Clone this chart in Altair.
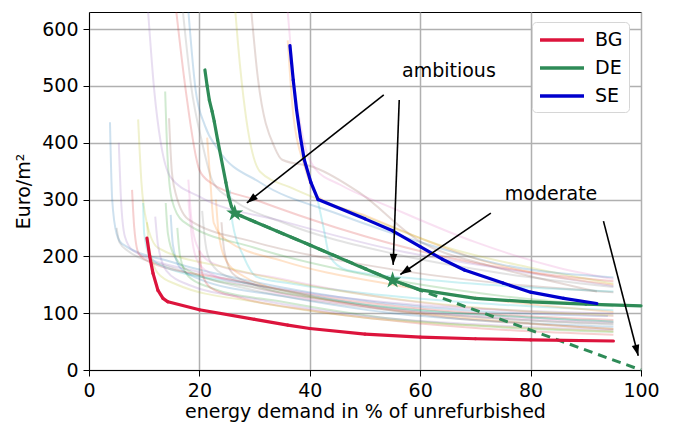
import math
import altair as alt
import pandas as pd

# ---------------- data ----------------
X_TICKS = [0, 20, 40, 60, 80, 100]
Y_TICKS = [0, 100, 200, 300, 400, 500, 600]
X_DOMAIN = [0, 100]
Y_DOMAIN = [0, 630]

BG_x = [10.5, 11.0, 11.6, 12.5, 13.4, 14.3, 20, 30, 36, 40, 50, 60, 70, 80, 95]
BG_y = [232, 200, 170, 140, 126, 120, 106, 89, 79, 73, 63, 58, 55, 53, 51]
DE_x = [21, 21.4, 21.8, 22.3, 22.7, 23.3, 24, 24.8, 25.3, 25.8, 26.4, 30, 40, 50, 55, 60, 70, 80, 90, 100]
DE_y = [528, 500, 475, 455, 437, 405, 370, 330, 305, 288, 276, 261, 220, 178, 158, 141, 126, 120, 116, 113]
SE_x = [36.4, 37, 37.6, 38.3, 39, 40.2, 41.5, 50, 55, 60, 64, 68, 75, 80, 86, 92]
SE_y = [571, 510, 458, 410, 370, 330, 300, 266, 245, 217, 195, 176, 153, 137, 126, 117]
COUNTRIES = ["BG", "DE", "SE"]
COUNTRY_COLORS = ["#dc143c", "#2e8b57", "#0000cd"]

DASH_x = [26.4, 55, 100]
DASH_y = [276, 158, 0]
STAR_x = [26.4, 55]
STAR_y = [276, 158]

ARROW_x1 = [53.4, 56.2, 72.8, 93.2]
ARROW_y1 = [484, 475, 276, 262]
ARROW_x2 = [28.6, 55.1, 56.4, 99.5]
ARROW_y2 = [294, 185, 168, 25]
LABEL_text = ["ambitious", "moderate"]
LABEL_x = [65.2, 83.7]
LABEL_y = [527, 309]

BGC_x = [
    [3.8, 4.2, 5.0, 6.0, 15, 30, 50, 70, 94],
    [36, 37, 39, 41.5, 50, 60, 70, 80, 95],
    [13.8, 14.2, 15, 17, 30, 50, 75, 95],
    [15.8, 17.5, 20, 22, 30, 45, 65, 80, 95],
    [5.4, 5.8, 6.5, 8, 20, 40, 60, 80, 95],
    [29.4, 30.6, 33.7, 35, 41, 49, 60, 72, 80, 92],
    [36, 37, 38.8, 41, 45.5, 55, 70, 85, 95],
    [17, 18.5, 20.5, 22.5, 26, 35, 55, 75, 95],
    [26.5, 27, 28.3, 31, 36.8, 50, 65, 80, 95],
    [25.5, 26, 28, 30.4, 36, 50, 70, 95],
    [18, 19.3, 21, 23.4, 31, 45, 60, 75, 95],
    [21.4, 22, 22.6, 25, 35, 55, 75, 95],
    [13.9, 14.3, 15.5, 19, 30, 50, 75, 95],
    [7.8, 8.2, 9, 11, 25, 45, 70, 95],
    [10.7, 11.8, 13, 14.8, 20, 35, 55, 75, 95],
    [14.5, 15, 15.4, 18, 30, 50, 75, 95],
    [18, 18.5, 19.5, 22, 35, 55, 75, 95],
    [5, 5.5, 7, 15, 30, 50, 75, 95],
    [8.9, 9.5, 10.5, 12.5, 25, 45, 70, 95],
    [9.8, 10, 11, 14, 30, 50, 75, 95],
    [14.8, 15.2, 16.5, 20, 35, 55, 75, 95],
    [23, 23.5, 25, 28, 40, 60, 80, 95],
    [16, 16.5, 18, 22, 35, 55, 75, 95],
    [20, 20.5, 22, 27, 40, 60, 80, 95],
    [12, 12.5, 14, 18, 30, 50, 75, 95],
    [24, 24.5, 26, 30, 45, 65, 85, 95],
    [18, 18.5, 19.5, 22, 30, 50, 75, 95],
    [20.5, 21, 22, 25, 35, 55, 75, 95],
    [10.5, 11, 12.5, 16, 30, 50, 75, 95],
    [41.3, 42.5, 43.6, 46.7, 60, 80, 95],
]
BGC_y = [
    [436, 300, 240, 222, 190, 155, 122, 104, 95],
    [580, 450, 360, 305, 272, 232, 196, 172, 150],
    [490, 380, 300, 262, 215, 168, 130, 112],
    [632, 494, 352, 330, 300, 250, 198, 172, 156],
    [400, 300, 235, 210, 172, 135, 114, 104, 99],
    [632, 513, 390, 370, 356, 312, 226, 185, 165, 138],
    [631, 520, 407, 354, 326, 285, 225, 180, 160],
    [632, 500, 400, 330, 300, 260, 205, 170, 146],
    [632, 573, 455, 349, 320, 270, 215, 180, 152],
    [317, 259, 200, 164, 153, 135, 118, 105],
    [632, 494, 430, 388, 330, 275, 225, 185, 163],
    [409, 330, 259, 228, 192, 150, 121, 102],
    [294, 240, 200, 170, 145, 115, 95, 85],
    [317, 250, 205, 190, 160, 125, 100, 88],
    [632, 494, 400, 339, 305, 262, 212, 178, 148],
    [443, 350, 323, 265, 225, 185, 152, 137],
    [335, 270, 220, 190, 160, 125, 105, 95],
    [250, 225, 210, 180, 140, 110, 90, 80],
    [441, 330, 258, 215, 180, 140, 110, 96],
    [294, 240, 200, 180, 150, 115, 95, 85],
    [273, 220, 180, 160, 130, 100, 85, 76],
    [300, 240, 190, 165, 130, 100, 82, 72],
    [250, 200, 165, 145, 120, 90, 75, 67],
    [210, 170, 145, 128, 105, 82, 68, 62],
    [270, 220, 175, 150, 125, 95, 78, 70],
    [260, 210, 170, 150, 120, 92, 78, 72],
    [300, 245, 195, 170, 145, 112, 92, 84],
    [280, 230, 190, 165, 140, 108, 90, 82],
    [260, 210, 170, 150, 120, 92, 76, 68],
    [305, 250, 200, 176, 160, 145, 138],
]
BGC_color = [
    "#1f77b4", "#ff7f0e", "#2ca02c", "#d62728", "#9467bd", "#8c564b",
    "#e377c2", "#7f7f7f", "#bcbd22", "#17becf", "#1f77b4", "#ff7f0e",
    "#2ca02c", "#d62728", "#9467bd", "#8c564b", "#e377c2", "#7f7f7f",
    "#bcbd22", "#17becf", "#1f77b4", "#ff7f0e", "#2ca02c", "#d62728",
    "#9467bd", "#8c564b", "#e377c2", "#7f7f7f", "#bcbd22", "#17becf",
]

# ---------------- styles ----------------
W, H = 552, 358
FONT = "DejaVu Sans"
FS = 19
PX_X = W / (X_DOMAIN[1] - X_DOMAIN[0])
PX_Y = H / (Y_DOMAIN[1] - Y_DOMAIN[0])
STAR_PATH = ("M0,-1L0.2245,-0.309L0.951,-0.309L0.363,0.118L0.588,0.809L0,0.382"
             "L-0.588,0.809L-0.363,0.118L-0.951,-0.309L-0.2245,-0.309Z")
HEAD_PATH = "M0,-1L0.62,0.8L-0.62,0.8Z"
HEAD_SIZE = 150
LEGEND_LINE = "M-2.2,0H2.2"

xs_ = alt.Scale(domain=X_DOMAIN, nice=False, zero=False)
ys_ = alt.Scale(domain=Y_DOMAIN, nice=False, zero=False)
common_axis = dict(
    grid=True, gridColor="#b0b0b0", gridWidth=1.5, domainColor="black",
    tickColor="black", tickSize=6, labelFontSize=FS, titleFontSize=FS,
    labelColor="black", titleColor="black", titleFontWeight="normal",
    labelFont=FONT, titleFont=FONT, labelPadding=5, labelFlush=False,
)
x_axis = alt.Axis(values=X_TICKS, title="energy demand in % of unrefurbished", titlePadding=2, **common_axis)
y_axis = alt.Axis(values=Y_TICKS, title="Euro/m²", titlePadding=8, **common_axis)
X = alt.X("xv:Q", scale=xs_, axis=x_axis)
Y = alt.Y("yv:Q", scale=ys_, axis=y_axis)

layers = []
# faint background curves: one layer per curve, fixed colour
for xs, ys, c in zip(BGC_x, BGC_y, BGC_color):
    df = pd.DataFrame({"xv": [float(v) for v in xs], "yv": [float(v) for v in ys]})
    layers.append(alt.Chart(df).mark_line(strokeWidth=2, opacity=0.22, color=c, clip=True,
                                          interpolate="monotone").encode(x=X, y=Y))

# dashed line
dash_df = pd.DataFrame({"xv": DASH_x, "yv": DASH_y})
layers.append(alt.Chart(dash_df).mark_line(strokeWidth=3, strokeDash=[9, 6], color="#2e8b57").encode(x=X, y=Y))

# highlighted curves as consecutive segments (colour channel -> legend)
seg_rows = []
for name, xs, ys in zip(COUNTRIES, [BG_x, DE_x, SE_x], [BG_y, DE_y, SE_y]):
    for a in range(len(xs) - 1):
        seg_rows.append({"country": name, "xv": float(xs[a]), "yv": float(ys[a]),
                         "xe": float(xs[a + 1]), "ye": float(ys[a + 1])})
seg_df = pd.DataFrame(seg_rows)
layers.append(alt.Chart(seg_df).mark_rule(strokeWidth=3.2, strokeCap="round").encode(
    x=X, y=Y, x2="xe:Q", y2="ye:Q",
    color=alt.Color("country:N", scale=alt.Scale(domain=COUNTRIES, range=COUNTRY_COLORS),
                    legend=alt.Legend(title=None, orient="none", legendX=443, legendY=10,
                                      labelFontSize=FS, labelFont=FONT, labelColor="black",
                                      symbolType=LEGEND_LINE, symbolStrokeWidth=3.5, symbolSize=400,
                                      symbolOffset=12, fillColor="white", strokeColor="#d6d6d6",
                                      cornerRadius=4, padding=6, rowPadding=6, labelOffset=21)),
))

# stars (custom star path)
star_df = pd.DataFrame({"xv": STAR_x, "yv": STAR_y})
layers.append(alt.Chart(star_df).mark_point(shape=STAR_PATH, filled=True, size=320, color="#2e8b57",
                                            opacity=1).encode(x=X, y=Y))

# arrows
arrow_df = pd.DataFrame({"xv": ARROW_x1, "yv": ARROW_y1, "xe": ARROW_x2, "ye": ARROW_y2})
layers.append(alt.Chart(arrow_df).mark_rule(color="black", strokeWidth=1.6).encode(x=X, y=Y, x2="xe:Q", y2="ye:Q"))
heads = []
BACK = math.sqrt(HEAD_SIZE) / 2
for x1, y1, x2, y2 in zip(ARROW_x1, ARROW_y1, ARROW_x2, ARROW_y2):
    vx = (x2 - x1) * PX_X
    vy = -(y2 - y1) * PX_Y
    L = math.hypot(vx, vy)
    ux, uy = vx / L, vy / L
    ang = math.degrees(math.atan2(ux, -uy)) % 360
    heads.append({"xv": x2 - BACK * ux / PX_X, "yv": y2 + BACK * uy / PX_Y, "ang": ang})
head_df = pd.DataFrame(heads)
layers.append(alt.Chart(head_df).mark_point(shape=HEAD_PATH, filled=True, size=HEAD_SIZE, color="black",
                                            opacity=1).encode(x=X, y=Y, angle=alt.Angle("ang:Q", scale=None)))

# labels
label_df = pd.DataFrame({"label": LABEL_text, "xv": LABEL_x, "yv": LABEL_y})
layers.append(alt.Chart(label_df).mark_text(font=FONT, fontSize=FS, color="black").encode(x=X, y=Y, text="label:N"))

chart = alt.layer(*layers).properties(
    width=W, height=H,
    autosize=alt.AutoSizeParams(type="none"),
    padding={"left": 81, "top": 4, "right": 25, "bottom": 56},
).configure_view(stroke="black")

chart.save("out.html", embed_options={"renderer": "svg", "actions": False})
